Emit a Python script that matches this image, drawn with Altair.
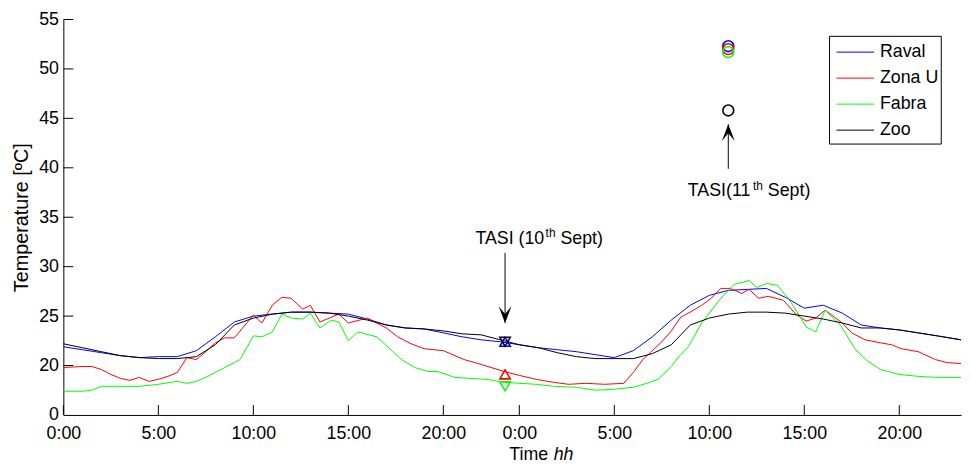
import altair as alt
import pandas as pd

FONT = "Liberation Sans"

# ---------------- data (hours since 0:00 of 10th Sept, temperature ºC) -------------
raval_h = [0, 1, 2, 3, 4, 5, 6, 7, 8, 9, 10, 11, 12, 13, 14, 15, 16, 17, 18, 19, 20, 21, 22, 23,
           24, 25, 26, 27, 28, 29, 30, 31, 32, 33, 34, 35, 36, 37, 38, 39, 40, 41, 42, 43, 44,
           45, 46, 47.25]
raval_t = [21.9, 21.6, 21.3, 21.0, 20.8, 20.9, 20.9, 21.5, 22.9, 24.4, 25.0, 25.2, 25.4, 25.4,
           25.3, 25.2, 24.7, 24.1, 23.8, 23.7, 23.3, 22.9, 22.6, 22.4, 22.1, 21.8, 21.6, 21.4,
           21.1, 20.8, 21.5, 22.9, 24.6, 26.1, 27.1, 27.6, 27.7, 27.8, 26.9, 25.8, 26.1, 25.3,
           24.1, 23.8, 23.6, 23.3, 23.0, 22.6]

zonau_h = [0, 1, 1.5, 2, 2.5, 3, 3.5, 4, 4.5, 5, 5.5, 6, 6.5, 7, 7.5, 8, 8.5, 9, 10, 10.45, 11,
           11.5, 12, 12.6, 13, 13.5, 14.5, 15, 16, 17, 17.6, 18.3, 19, 20, 21.1, 22, 23.2, 24,
           24.9, 25.8, 26.6, 27.5, 28.5, 29.5, 30, 30.5, 31, 31.5, 32, 32.5, 33, 33.6, 34.1,
           34.6, 35.1, 35.7, 36.1, 36.6, 37.1, 37.9, 38.6, 39.1, 39.6, 40.1, 41, 41.5, 42.2,
           43, 43.6, 44.1, 45, 45.9, 46.5, 47.25]
zonau_t = [19.8, 19.9, 19.9, 19.6, 19.1, 18.7, 18.5, 18.8, 18.4, 18.6, 18.9, 19.3, 20.8, 20.6,
           21.4, 22.3, 22.8, 22.8, 25.1, 24.3, 26.1, 26.9, 26.8, 25.7, 26.1, 24.4, 25.2, 24.3,
           24.8, 23.8, 22.9, 22.2, 21.7, 21.5, 20.6, 20.1, 19.4, 19.0, 18.6, 18.3, 18.1, 18.2,
           18.1, 18.2, 19.3, 20.6, 21.5, 22.4, 23.5, 24.9, 25.4, 26.1, 26.8, 27.8, 27.8, 27.3,
           27.7, 26.8, 27.0, 26.6, 25.1, 24.5, 24.8, 25.6, 24.3, 23.3, 22.6, 22.3, 22.1, 21.7,
           21.4, 20.6, 20.3, 20.2]

fabra_h = [0, 1, 1.5, 2, 3, 4, 5, 6, 6.5, 7, 7.5, 8, 8.5, 9, 9.3, 10, 10.45, 11, 11.5, 12, 12.6,
           13, 13.5, 14.1, 14.5, 15, 15.5, 16.5, 17.8, 18.5, 19.2, 19.7, 20.6, 21.4, 22.3, 23.2,
           24.9, 25.8, 27, 28, 29, 30, 30.7, 31.3, 32, 32.4, 32.9, 33.6, 34.6, 35.3, 36.1, 36.5,
           37.05, 37.6, 38.3, 39.1, 39.6, 40.1, 40.9, 41.7, 42.3, 43, 44, 45, 46, 47.25]
fabra_t = [17.4, 17.4, 17.5, 17.9, 17.9, 17.9, 18.1, 18.4, 18.2, 18.4, 18.8, 19.3, 19.8, 20.3,
           20.6, 23.0, 22.9, 23.4, 25.2, 24.8, 24.7, 25.3, 23.8, 24.6, 24.4, 22.5, 23.4, 22.9,
           20.6, 19.8, 19.4, 19.4, 18.8, 18.7, 18.6, 18.3, 18.1, 17.9, 17.8, 17.5, 17.6, 17.8,
           18.2, 18.6, 19.9, 20.9, 21.9, 24.3, 26.8, 28.2, 28.6, 27.9, 28.3, 28.1, 26.4, 23.9,
           23.4, 25.6, 24.1, 21.6, 20.5, 19.6, 19.1, 18.9, 18.8, 18.8]

zoo_h = raval_h
zoo_t = [22.2, 21.8, 21.4, 21.0, 20.8, 20.7, 20.7, 20.9, 22.1, 24.1, 24.8, 25.2, 25.4, 25.4,
         25.3, 25.0, 24.6, 24.1, 23.8, 23.7, 23.5, 23.2, 23.1, 22.6, 22.1, 21.8, 21.3, 20.9,
         20.7, 20.7, 20.7, 21.2, 22.1, 24.1, 24.8, 25.2, 25.4, 25.4, 25.3, 25.0, 24.7, 24.3,
         23.8, 23.8, 23.6, 23.3, 23.0, 22.6]

series_names = ["Raval", "Zona U", "Fabra", "Zoo"]
series_colors = ["#0000ff", "#ff0000", "#00ff00", "#000000"]

# TASI markers
tasi10_h = 23.25
tasi10_t = [22.4, 19.1, 17.9, 22.4]
tasi10_shape = ["triangle-up", "triangle-up", "triangle-down", "triangle-down"]
tasi11_h = 35.0
tasi11_t = [52.3, 52.0, 51.7, 45.8]

# annotation arrows: (hour, tail temp, tip temp)
arrow10 = (23.25, 31.4, 24.3)
arrow11 = (35.0, 39.9, 44.4)
label10_t = 32.8
label11_t = 37.6

x_tick_values = [0, 5, 10, 15, 20, 24, 29, 34, 39, 44]
y_tick_values = [15, 20, 25, 30, 35, 40, 45, 50, 55]

# ---------------- tables ----------------
frames = []
for name, hs, ts in [("Raval", raval_h, raval_t), ("Zona U", zonau_h, zonau_t),
                     ("Fabra", fabra_h, fabra_t), ("Zoo", zoo_h, zoo_t)]:
    frames.append(pd.DataFrame({"h": hs, "T": ts, "series": name}))
lines_df = pd.concat(frames, ignore_index=True)

tri_df = pd.DataFrame({"h": [tasi10_h] * 4, "T": tasi10_t, "shape": tasi10_shape,
                       "col": series_colors, "k": range(4)})
circ_df = pd.DataFrame({"h": [tasi11_h] * 4, "T": tasi11_t, "col": series_colors})
leg_df = pd.DataFrame({"series": series_names, "col": series_colors, "k": range(4)})

xscale = alt.Scale(domain=[0, 47.25], nice=False, zero=False)
yscale = alt.Scale(domain=[15, 55], nice=False, zero=False)

xaxis = alt.Axis(values=x_tick_values, ticks=False, tickSize=0, grid=False, labelFlush=False,
                 labelExpr="datum.value >= 24 ? (datum.value - 24) + ':00' : datum.value + ':00'",
                 labelPadding=10, title=None, domainColor="black", labelColor="black",
                 labelFont=FONT, labelFontSize=18)
yaxis = alt.Axis(values=y_tick_values, ticks=False, tickSize=0, grid=False, labelFlush=False,
                 labelExpr="datum.value == 15 ? '0' : datum.value",
                 labelPadding=5, title="Temperature [ºC]", titlePadding=7,
                 titleFont=FONT, titleFontSize=20, titleFontWeight="normal", titleColor="black",
                 domainColor="black", labelColor="black", labelFont=FONT, labelFontSize=18)


def X():
    return alt.X("h:Q", scale=xscale, axis=xaxis)


def Y():
    return alt.Y("T:Q", scale=yscale, axis=yaxis)


lines = alt.Chart(lines_df).mark_line(strokeWidth=1).encode(
    x=X(), y=Y(),
    color=alt.Color("series:N", scale=alt.Scale(domain=series_names, range=series_colors),
                    legend=None),
    order="h:Q",
)

xt = alt.Chart(pd.DataFrame({"h": x_tick_values})).mark_rule(color="black", strokeWidth=1).encode(
    x=X(), y=alt.value(400), y2=alt.value(390))
yt = alt.Chart(pd.DataFrame({"T": y_tick_values[1:]})).mark_rule(color="black", strokeWidth=1).encode(
    y=Y(), x=alt.value(0), x2=alt.value(10))

tri = alt.Chart(tri_df).mark_point(filled=False, size=110, strokeWidth=1.6, opacity=1).encode(
    x=X(), y=Y(), shape=alt.Shape("shape:N", scale=None), color=alt.Color("col:N", scale=None),
    order="k:Q")
circ = alt.Chart(circ_df).mark_point(shape="circle", filled=False, size=120, strokeWidth=1.6,
                                      opacity=1).encode(
    x=X(), y=Y(), color=alt.Color("col:N", scale=None))

arr_df = pd.DataFrame({"h": [arrow10[0], arrow11[0]], "T": [arrow10[1], arrow11[1]],
                       "T2": [arrow10[2], arrow11[2]]})
shafts = alt.Chart(arr_df).mark_rule(color="black", strokeWidth=1).encode(
    x=X(), y=Y(), y2="T2:Q")
head_down = alt.Chart(pd.DataFrame({"h": [arrow10[0]], "T": [arrow10[2]]})).mark_point(
    shape="M0,0 L-1,-2.6 L0,-1.4 L1,-2.6 Z", filled=True, size=169, color="black",
    opacity=1, strokeWidth=0).encode(x=X(), y=Y())
head_up = alt.Chart(pd.DataFrame({"h": [arrow11[0]], "T": [arrow11[2]]})).mark_point(
    shape="M0,0 L-1,2.6 L0,1.4 L1,2.6 Z", filled=True, size=169, color="black",
    opacity=1, strokeWidth=0).encode(x=X(), y=Y())


def txt(h, t, s, dx, dy=0, size=18, style="normal"):
    return alt.Chart(pd.DataFrame({"h": [h], "T": [t], "s": [s]})).mark_text(
        align="left", baseline="middle", dx=dx, dy=dy, font=FONT, fontSize=size,
        fontStyle=style, color="black").encode(x=X(), y=Y(), text="s:N")


lab10 = [txt(arrow10[0], label10_t, "TASI (10", -30),
         txt(arrow10[0], label10_t, "th", 41, -6, 12),
         txt(arrow10[0], label10_t, "Sept)", 56)]
lab11 = [txt(arrow11[0], label11_t, "TASI(11", -41),
         txt(arrow11[0], label11_t, "th", 25, -6, 12),
         txt(arrow11[0], label11_t, "Sept)", 40)]

time_df = pd.DataFrame({"s": ["Time"]})
hh_df = pd.DataFrame({"s": ["hh"]})
time_t = alt.Chart(time_df).mark_text(align="left", baseline="middle", font=FONT, fontSize=18,
                                      color="black").encode(
    x=alt.value(451), y=alt.value(441), text="s:N")
hh_t = alt.Chart(hh_df).mark_text(align="left", baseline="middle", font=FONT, fontSize=18,
                                  fontStyle="italic", color="black").encode(
    x=alt.value(496), y=alt.value(441), text="s:N")

# ---- legend box (drawn as marks, placed in the upper right of the plot) ----
LEG_X0, LEG_X1, LEG_Y0, LEG_Y1 = 775, 888, 17, 126
leg_box = alt.Chart(pd.DataFrame({"a": [0]})).mark_rect(
    fill="white", stroke="black", strokeWidth=1).encode(
    x=alt.value(LEG_X0), x2=alt.value(LEG_X1), y=alt.value(LEG_Y0), y2=alt.value(LEG_Y1))
leg_lines = alt.Chart(leg_df).transform_calculate(ypx="33 + datum.k * 26.3").mark_rule(
    strokeWidth=1).encode(
    x=alt.value(782), x2=alt.value(820), y=alt.Y("ypx:Q", scale=None, axis=None),
    color=alt.Color("col:N", scale=None))
leg_text = alt.Chart(leg_df).transform_calculate(ypx="33 + datum.k * 26.3").mark_text(
    align="left", baseline="middle", font=FONT, fontSize=18, color="black").encode(
    x=alt.value(826), y=alt.Y("ypx:Q", scale=None, axis=None), text="series:N")

chart = alt.layer(lines, xt, yt, shafts, head_down, head_up, tri, circ, *lab10, *lab11,
                  time_t, hh_t, leg_box, leg_lines, leg_text).properties(
    width=908, height=400,
    padding={"left": 3, "top": 0, "right": 0, "bottom": 0},
).configure_view(stroke=None)

chart.save("out.html", embed_options={"renderer": "svg", "actions": False})
